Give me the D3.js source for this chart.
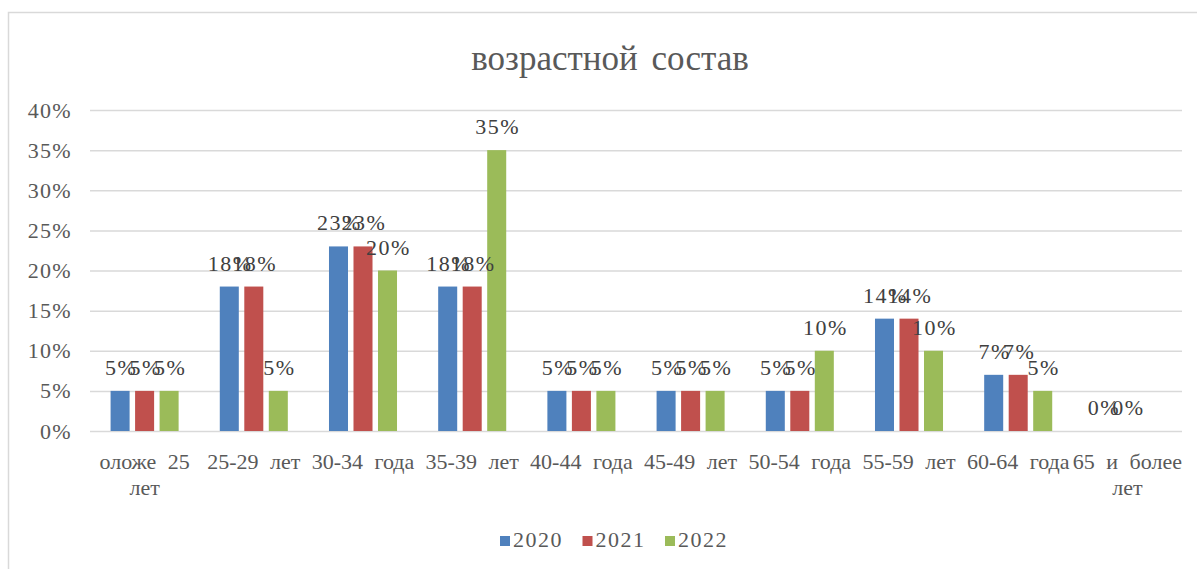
<!DOCTYPE html>
<html>
<head>
<meta charset="utf-8">
<script src="https://cdn.jsdelivr.net/npm/d3@7"></script>
<style>
  body { margin: 0; background: #fff; }
</style>
</head>
<body>
<svg id="chart" width="1197" height="569" font-family="'Liberation Serif', 'DejaVu Serif', serif"></svg>
<script>
// data
var categories = ["оложе 25 лет", "25-29 лет", "30-34 года", "35-39 лет", "40-44 года",
                  "45-49 лет", "50-54 года", "55-59 лет", "60-64 года", "65 и более лет"];
var seriesNames = ["2020", "2021", "2022"];
var values2020 = [5, 18, 23, 18, 5, 5, 5, 14, 7, 0];
var values2021 = [5, 18, 23, 18, 5, 5, 5, 14, 7, 0];
var values2022 = [5, 5, 20, 35, 5, 5, 10, 10, 5, null];
var yTicks = [0, 5, 10, 15, 20, 25, 30, 35, 40];
var colors = ["#4F81BD", "#C0504D", "#9BBB59"];

var allValues = [values2020, values2021, values2022];
var serif = "'Liberation Serif', 'DejaVu Serif', serif";

var svg = d3.select("#chart");

// chart border (runs past the picture on the right)
svg.append("rect")
    .attr("x", 8.5).attr("y", 12.5)
    .attr("width", 1210).attr("height", 600)
    .attr("fill", "none")
    .attr("stroke", "#d9d9d9")
    .attr("stroke-width", 1.5);

var plotLeft = 90, plotRight = 1182, plotTop = 110, plotBottom = 431;

var x0 = d3.scaleBand().domain(categories).range([plotLeft, plotRight]).padding(0);
var x1 = d3.scaleBand().domain(seriesNames).range([0, x0.bandwidth()])
    .paddingInner(0.224).paddingOuter(0.84);
var y = d3.scaleLinear().domain([0, 40]).range([plotBottom, plotTop]);

// title
svg.append("text")
    .attr("x", 610).attr("y", 70)
    .attr("text-anchor", "middle")
    .attr("font-size", 35)
    .attr("fill", "#595959")
    .style("font-family", serif)
    .style("word-spacing", "5px")
    .text("возрастной состав");

// y axis + gridlines
var yAxis = svg.append("g")
    .attr("transform", "translate(" + plotLeft + ",0)")
    .call(d3.axisLeft(y).tickValues(yTicks).tickSize(-(plotRight - plotLeft)).tickPadding(18)
          .tickFormat(function(d) { return d + "%"; }));
yAxis.attr("font-family", null);
yAxis.select(".domain").remove();
yAxis.selectAll("line").attr("stroke", "#d9d9d9").attr("stroke-width", 1.5);
yAxis.selectAll("text").attr("font-size", 22).attr("fill", "#595959")
    .style("font-family", serif).style("letter-spacing", "1.3px");

// bars
var groups = svg.append("g").selectAll("g")
    .data(categories)
    .enter().append("g")
    .attr("transform", function(d) { return "translate(" + x0(d) + ",0)"; });

function rowOf(i) {
  return seriesNames.map(function(s, k) { return {s: s, k: k, v: allValues[k][i]}; })
    .filter(function(d) { return d.v !== null; });
}

groups.selectAll("rect")
    .data(function(d, i) { return rowOf(i); })
    .enter().append("rect")
    .attr("x", function(d) { return x1(d.s); })
    .attr("y", function(d) { return y(d.v); })
    .attr("width", x1.bandwidth())
    .attr("height", function(d) { return y(0) - y(d.v); })
    .attr("fill", function(d) { return colors[d.k]; });

// data labels
groups.selectAll("text.lbl")
    .data(function(d, i) { return rowOf(i); })
    .enter().append("text")
    .attr("class", "lbl")
    .attr("x", function(d) { return x1(d.s) + x1.bandwidth() / 2 + 1; })
    .attr("y", function(d) { return y(d.v) - 16; })
    .attr("text-anchor", "middle")
    .attr("font-size", 22)
    .attr("fill", "#404040")
    .style("font-family", serif)
    .style("letter-spacing", "1.5px")
    .text(function(d) { return d.v + "%"; });

// x axis labels
var xAxis = svg.append("g")
    .attr("transform", "translate(0," + plotBottom + ")")
    .call(d3.axisBottom(x0).tickSize(0).tickPadding(0));
xAxis.attr("font-family", null);
xAxis.select(".domain").remove();
xAxis.selectAll("text")
    .attr("font-size", 22)
    .attr("fill", "#595959")
    .style("font-family", serif)
    .style("word-spacing", "6px")
    .attr("dy", 0)
    .attr("y", 38)
    .call(wrap, x0.bandwidth());

function wrap(text, width) {
  text.each(function() {
    var t = d3.select(this),
        words = t.text().split(/\s+/).reverse(),
        word, line = [], lineNumber = 0,
        yy = t.attr("y"),
        tspan = t.text(null).append("tspan").attr("x", 0).attr("y", yy);
    while (word = words.pop()) {
      line.push(word);
      tspan.text(line.join(" "));
      if (tspan.node().getComputedTextLength() > width && line.length > 1) {
        line.pop();
        tspan.text(line.join(" "));
        line = [word];
        tspan = t.append("tspan").attr("x", 0).attr("y", yy)
          .attr("dy", (++lineNumber * 26) + "px").text(word);
      }
    }
  });
}

// legend
var legend = svg.append("g").selectAll("g")
    .data(seriesNames)
    .enter().append("g")
    .attr("transform", function(d, i) { return "translate(" + (500 + i * 82.5) + ",536)"; });
legend.append("rect")
    .attr("width", 10).attr("height", 10)
    .attr("fill", function(d, i) { return colors[i]; });
legend.append("text")
    .attr("x", 13).attr("y", 11)
    .attr("font-size", 22)
    .attr("fill", "#595959")
    .style("font-family", serif)
    .style("letter-spacing", "1.5px")
    .text(function(d) { return d; });
</script>
</body>
</html>
